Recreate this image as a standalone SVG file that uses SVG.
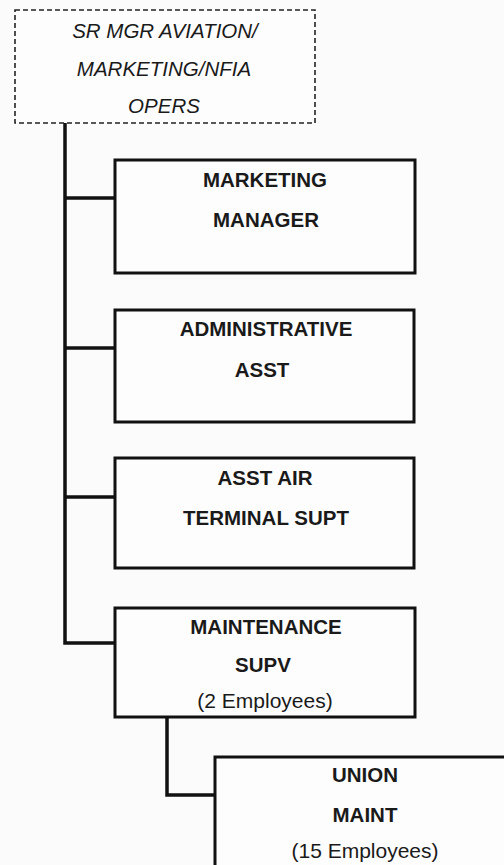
<svg xmlns="http://www.w3.org/2000/svg" width="504" height="865" viewBox="0 0 504 865">
<style>
.box{fill:#fdfdfd;stroke:#111;stroke-width:3}
.dash{fill:#fdfdfd;stroke:#222;stroke-width:1.6;stroke-dasharray:5 3}
.conn{fill:none;stroke:#111;stroke-width:3.5}
text{font-family:"Liberation Sans",Arial,sans-serif;font-size:20.5px;fill:#1a1a1a;text-anchor:middle}
.b{font-weight:bold}
.i{font-style:italic}
.r{font-size:21px}
</style>
<rect width="504" height="865" fill="#fbfbfb"/>
<g id="connectors">
<path class="conn" d="M65 123 V643 H115"/>
<path class="conn" d="M65 198 H115"/>
<path class="conn" d="M65 348 H115"/>
<path class="conn" d="M65 497 H115"/>
<path class="conn" d="M167 717 V795 H215"/>
</g>
<g id="sr-mgr">
<rect class="dash" x="15" y="10" width="300" height="113"/>
<text class="i" x="165" y="38">SR MGR AVIATION/</text>
<text class="i" x="164" y="76">MARKETING/NFIA</text>
<text class="i" x="164" y="113">OPERS</text>
</g>
<g id="marketing-manager">
<rect class="box" x="115" y="160" width="300" height="113"/>
<text class="b" x="265" y="187">MARKETING</text>
<text class="b" x="266" y="227">MANAGER</text>
</g>
<g id="admin-asst">
<rect class="box" x="115" y="310" width="299" height="112"/>
<text class="b" x="266" y="336">ADMINISTRATIVE</text>
<text class="b" x="262" y="377">ASST</text>
</g>
<g id="asst-air-terminal-supt">
<rect class="box" x="115" y="458" width="299" height="110"/>
<text class="b" x="265" y="485">ASST AIR</text>
<text class="b" x="266" y="525">TERMINAL SUPT</text>
</g>
<g id="maintenance-supv">
<rect class="box" x="115" y="608" width="300" height="109"/>
<text class="b" x="266" y="634">MAINTENANCE</text>
<text class="b" x="263" y="672">SUPV</text>
<text class="r" x="265" y="708">(2 Employees)</text>
</g>
<g id="union-maint">
<rect class="box" x="215" y="757" width="300" height="120"/>
<text class="b" x="365" y="782">UNION</text>
<text class="b" x="365" y="822">MAINT</text>
<text class="r" x="365" y="858">(15 Employees)</text>
</g>
</svg>
